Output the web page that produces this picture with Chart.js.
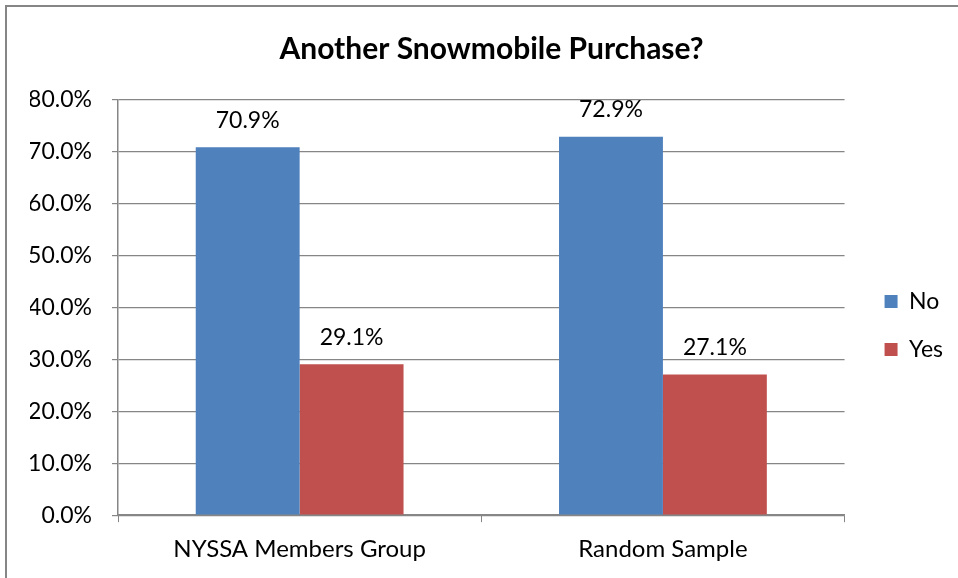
<!DOCTYPE html>
<html>
<head>
<meta charset="utf-8">
<script src="https://cdn.jsdelivr.net/npm/chart.js@4"></script>
<style>
  html, body { margin: 0; padding: 0; background: #fff; overflow: hidden; }
  #wrap { position: relative; width: 958px; height: 578px; }
  #frame { position: absolute; left: 5px; top: 5px; width: 970px; height: 590px; border: 2px solid #868686; box-sizing: border-box; pointer-events: none; }
  canvas { position: absolute; left: 0; top: 0; }
</style>
</head>
<body>
<div id="wrap">
  <canvas id="chart" width="958" height="578"></canvas>
  <div id="frame"></div>
</div>
<script>
// chart data
const categories = ['NYSSA Members Group', 'Random Sample'];
const noValues = [70.9, 72.9];
const yesValues = [29.1, 27.1];
const yTicks = [0, 10, 20, 30, 40, 50, 60, 70, 80];

const fontName = 'Lato, "Open Sans", sans-serif';
const gridColor = '#868686';

// draws the percentage above each bar
const barLabels = {
    id: 'barLabels',
    afterDatasetsDraw(chart){
        const ctx = chart.ctx;
        ctx.save();
        ctx.font = '23px ' + fontName;
        ctx.fillStyle = '#000';
        ctx.textAlign = 'center';
        ctx.textBaseline = 'middle';
        chart.data.datasets.forEach((ds, i) => {
            const meta = chart.getDatasetMeta(i);
            meta.data.forEach((bar, j) => {
                ctx.fillText(ds.data[j].toFixed(1) + '%', bar.x, bar.y - 27);
            });
        });
        ctx.restore();
    }
};

let ctx = document.getElementById('chart').getContext('2d');
let chart = new Chart(ctx, {
    type: 'bar',
    data: {
        labels: categories,
        datasets: [
            { label: 'No', data: noValues, backgroundColor: '#4F81BD', categoryPercentage: 0.572, barPercentage: 1 },
            { label: 'Yes', data: yesValues, backgroundColor: '#C0504D', categoryPercentage: 0.572, barPercentage: 1 }
        ]
    },
    options: {
        responsive: false,
        animation: false,
        layout: { padding: { left: 30, right: 5, top: 20, bottom: 1 } },
        plugins: {
            title: {
                display: true,
                text: 'Another Snowmobile Purchase?',
                color: '#000',
                font: { family: fontName, size: 30, weight: 'bold' },
                padding: { top: 11, bottom: 33 }
            },
            legend: {
                position: 'right',
                // blank legend title, pushes the items down a little
                title: { display: true, text: ' ', font: { size: 10 }, padding: { top: 21, bottom: 21 } },
                labels: {
                    color: '#000',
                    font: { family: fontName, size: 23 },
                    boxWidth: 13,
                    boxHeight: 13,
                    padding: 25
                }
            },
            tooltip: { enabled: false }
        },
        scales: {
            x: {
                grid: { drawOnChartArea: false, color: gridColor, tickLength: 7, offset: true },
                border: { color: gridColor, width: 1.5 },
                ticks: { color: '#000', font: { family: fontName, size: 24 }, padding: 13 }
            },
            y: {
                min: 0,
                max: 80,
                afterBuildTicks(scale){ scale.ticks = yTicks.map(v => ({ value: v })); },
                afterFit(scale){ scale.width = 88; },
                grid: { color: gridColor, lineWidth: 1.2, tickLength: 6 },
                border: { color: gridColor, width: 1.5 },
                ticks: {
                    color: '#000',
                    font: { family: fontName, size: 23 },
                    padding: 20,
                    callback: v => v.toFixed(1) + '%'
                }
            },
            // empty axis, only keeps a gap between the plot and the legend
            gap: {
                position: 'right',
                min: 0,
                max: 80,
                afterFit(scale){ scale.width = 15; },
                grid: { display: false },
                border: { display: false },
                ticks: { display: false }
            }
        }
    },
    plugins: [barLabels]
});
</script>
</body>
</html>
